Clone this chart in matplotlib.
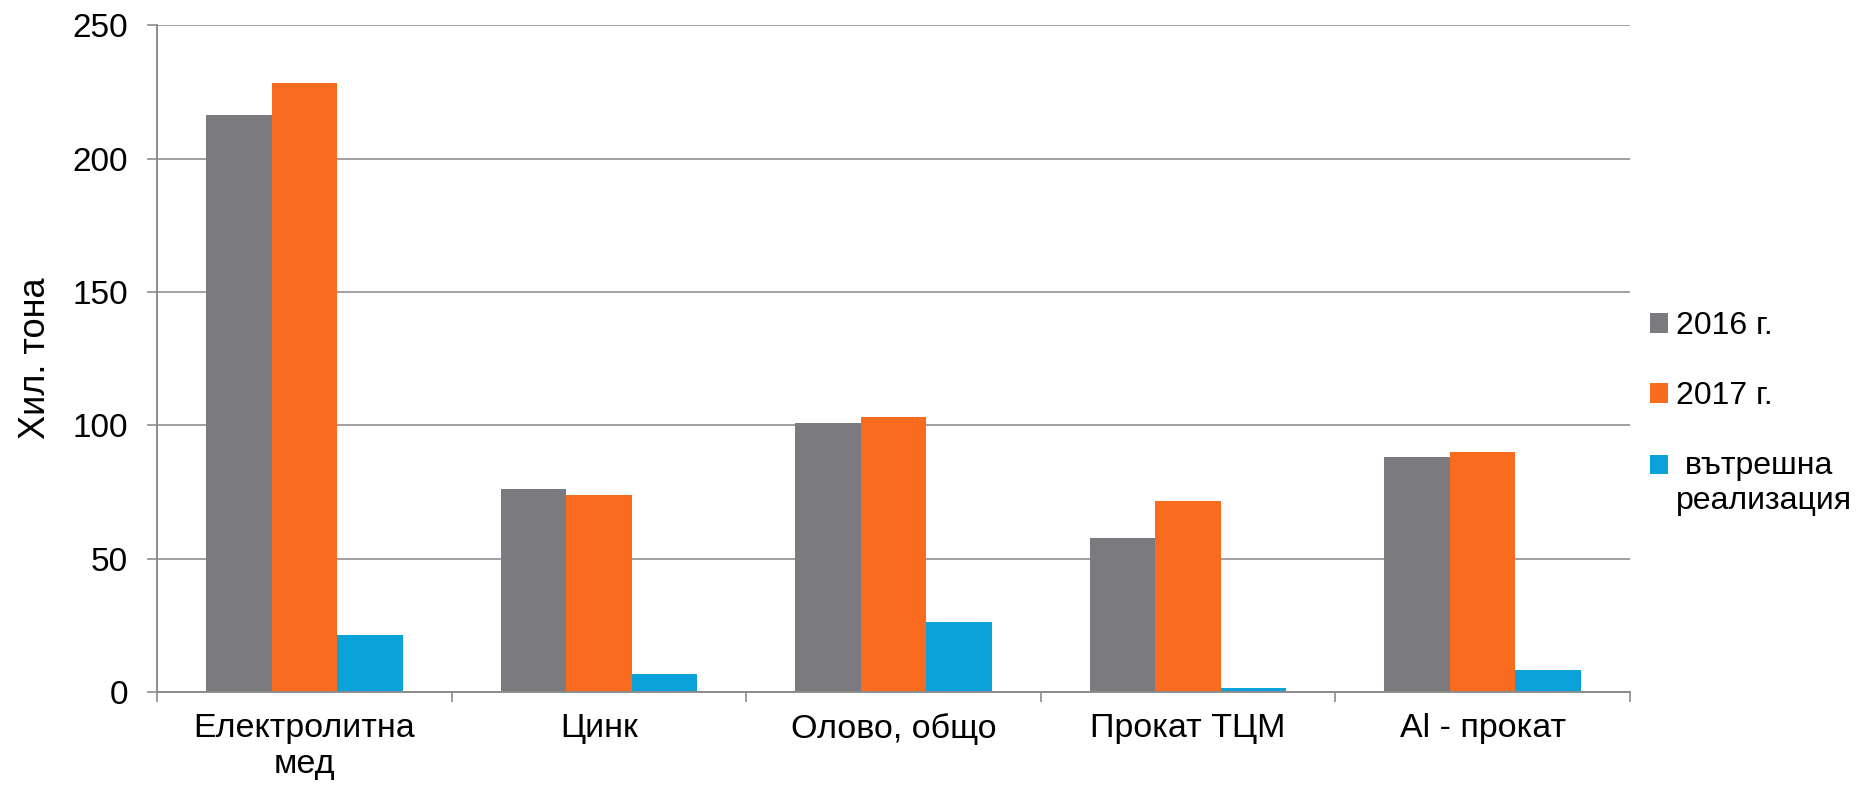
import matplotlib
matplotlib.use("Agg")
import matplotlib.pyplot as plt
from matplotlib.patches import Patch, Rectangle
from matplotlib.legend_handler import HandlerPatch
import numpy as np

plt.rcParams['font.family'] = ['Liberation Sans', 'DejaVu Sans']

categories = ["Електролитна\nмед", "Цинк", "Олово, общо", "Прокат ТЦМ", "Al - прокат"]
series_names = ["2016 г.", "2017 г.", " вътрешна\nреализация"]
v2016 = [216.4, 76.0, 101.0, 57.8, 88.0]
v2017 = [228.5, 74.0, 103.2, 71.7, 90.0]
vinner = [21.4, 6.7, 26.3, 1.4, 8.1]
colors = ["#7B7B7F", "#F96B1E", "#0AA2D9"]
yticks = [0, 50, 100, 150, 200, 250]

fig = plt.figure(figsize=(18.72, 7.9), dpi=100)
ax = fig.add_axes([0.0839, 0.124, 0.7868, 0.844])

x = np.arange(len(categories))
w = 1 / 4.5
for i, (vals, c, name) in enumerate(zip([v2016, v2017, vinner], colors, series_names)):
    ax.bar(x + (i - 1) * w, vals, width=w, color=c, label=name, zorder=3)

ax.set_xlim(-0.5, len(categories) - 0.5)
ax.set_ylim(0, 250)
ax.set_yticks(yticks)
ax.set_yticklabels([str(t) for t in yticks], fontsize=24)
ax.set_xticks(x)
ax.set_xticklabels(categories, fontsize=24.5, linespacing=1.2)
ax.set_xticks(np.arange(-0.5, len(categories)), minor=True)
ax.tick_params(axis='x', which='major', length=0, pad=15)
ax.tick_params(axis='x', which='minor', length=7, width=1.2, color='#8C8C8C')
ax.tick_params(axis='y', length=7, width=1.2, color='#8C8C8C', pad=14)
ax.grid(axis='y', color='#A0A0A0', linewidth=1.4, zorder=0)
for s in ['top', 'right']:
    ax.spines[s].set_visible(False)
for s in ['left', 'bottom']:
    ax.spines[s].set_color('#8C8C8C')
    ax.spines[s].set_linewidth(1.4)
    ax.spines[s].set_zorder(4)

ax.set_ylabel("Хил. тона", fontsize=26, labelpad=14)


class TopLinePatchHandler(HandlerPatch):
    """Square aligned with the first line of a two-line label."""
    def __init__(self, shift, **kw):
        super().__init__(**kw)
        self.shift = shift

    def create_artists(self, legend, orig_handle, xdescent, ydescent,
                       width, height, fontsize, trans):
        p = Rectangle((-xdescent, -ydescent + self.shift * fontsize), width, height)
        self.update_prop(p, orig_handle, legend)
        p.set_transform(trans)
        return [p]


handles = [Patch(facecolor=c, edgecolor='none') for c in colors]
leg = fig.legend(handles, series_names, loc='upper left', bbox_to_anchor=(0.8814, 0.606),
                 frameon=False, fontsize=23, handlelength=0.57, handleheight=0.57,
                 handletextpad=0.25, labelspacing=1.25, borderaxespad=0, borderpad=0,
                 handler_map={handles[2]: TopLinePatchHandler(0.6)})

fig.savefig("out.png", dpi=100)
